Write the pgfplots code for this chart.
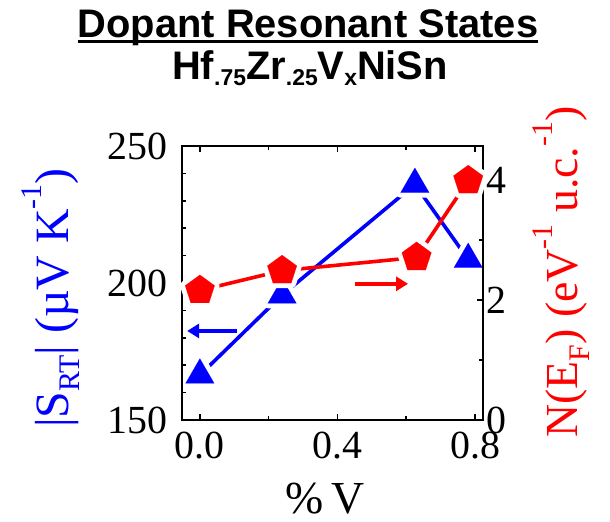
\documentclass[border=0pt]{standalone}
\usepackage{fontspec}
\setmainfont{Liberation Serif}
\newfontfamily\arial{Liberation Sans}
\usepackage{pgfplots}
\pgfplotsset{compat=1.18}
\usetikzlibrary{arrows.meta}
\definecolor{pblue}{RGB}{0,0,255}
\definecolor{pred}{RGB}{255,0,0}
\newcommand\tsub[1]{\raisebox{-6bp}{\fontsize{23}{23}\selectfont #1}}
\newcommand\lsub[1]{\raisebox{-0.25em}{\fontsize{30}{30}\selectfont #1}}
\newcommand\lsup[1]{\raisebox{0.55em}{\fontsize{30}{30}\selectfont #1}}
\begin{document}
\begin{tikzpicture}
\pgfplotsset{
  common/.style={at={(0,0)}, anchor=south west, scale only axis,
    width=301bp, height=274bp, xmin=-0.052, xmax=0.823,
    tick align=inside, major tick length=6bp, minor tick length=4bp,
    every tick/.style={line width=1.6bp, black},
    axis line style={line width=2.4bp, black},
    axis on top, clip=false,
    tick label style={font=\fontsize{40}{40}\selectfont},
    /pgf/number format/assume math mode=true,
    xtick={0,0.4,0.8}, minor xtick={0.2,0.6},
  }
}
\begin{axis}[common,
  ymin=150, ymax=250,
  xticklabels={0.0,0.4,0.8},
  ytick={150,200,250}, minor ytick={160,170,180,190,210,220,230,240},
  ytick pos=left,
  yticklabel style={xshift=-11bp},
  xticklabel style={yshift=-8bp},
]
\addplot[pblue, line width=3.6bp, mark=none] coordinates {(0,166.4) (0.239,195.6) (0.625,236) (0.78,208.6)};
\addplot[only marks, mark=triangle*, mark size=16.5bp, mark options={fill=white, draw=white, line width=10bp, line join=round}] coordinates {(0,166.4) (0.239,195.6) (0.625,236) (0.78,208.6)};
\addplot[only marks, mark=triangle*, mark size=16.5bp, mark options={fill=pblue, draw=pblue, line width=0.1bp}] coordinates {(0,166.4) (0.239,195.6) (0.625,236) (0.78,208.6)};
\draw[pblue, line width=4bp, -{Triangle[length=12bp, width=14bp]}] (axis cs:0.108,182.5) -- (axis cs:-0.037,182.5);
\end{axis}
\begin{axis}[common,
  ymin=0, ymax=4.567,
  xticklabels=\empty,
  ytick={0,2,4}, minor ytick={1,3},
  ytick pos=right,
]
\addplot[pred, line width=3.6bp, mark=none] coordinates {(0,2.16) (0.239,2.49) (0.63,2.71) (0.78,3.99)};
\addplot[only marks, mark=pentagon*, mark size=15.5bp, mark options={fill=white, draw=white, line width=10bp, line join=round}] coordinates {(0,2.16) (0.239,2.49) (0.63,2.71) (0.78,3.99)};
\addplot[only marks, mark=pentagon*, mark size=15.5bp, mark options={fill=pred, draw=pred, line width=0.1bp}] coordinates {(0,2.16) (0.239,2.49) (0.63,2.71) (0.78,3.99)};
\draw[pred, line width=4bp, -{Triangle[length=12bp, width=14bp]}] (axis cs:0.45,2.27) -- (axis cs:0.605,2.27);
\draw[black, line width=2.4bp] (rel axis cs:0,0) rectangle (rel axis cs:1,1);
\end{axis}
% titles and axis labels
\node[anchor=base, inner sep=0] (t1) at (126bp,382bp) {\arial\bfseries\fontsize{40}{40}\selectfont Dopant Resonant States};
\draw[line width=3bp] ([yshift=-4bp]t1.base west) -- ([yshift=-4bp]t1.base east);
\node[anchor=base, inner sep=0] at (128bp,340bp) {\arial\bfseries\fontsize{40}{40}\selectfont Hf\tsub{.75}Zr\tsub{.25}V\tsub{x}NiSn};
\node[anchor=base, inner sep=0] at (143bp,-93bp) {\fontsize{46}{46}\selectfont \%\,V};
\node[rotate=90, inner sep=0, text=pblue] at (-131bp,122bp) {\fontsize{48}{48}\selectfont |S\lsub{RT}| (µV K\lsup{-1})};
\node[rotate=90, inner sep=0, text=pred] at (379bp,148bp) {\fontsize{46}{46}\selectfont N(E\lsub{F}) (eV\lsup{-1} u.c.\lsup{-1})};
\pgfresetboundingbox
\useasboundingbox (-182bp,-102bp) rectangle (428bp,420bp);
\end{tikzpicture}
\end{document}
